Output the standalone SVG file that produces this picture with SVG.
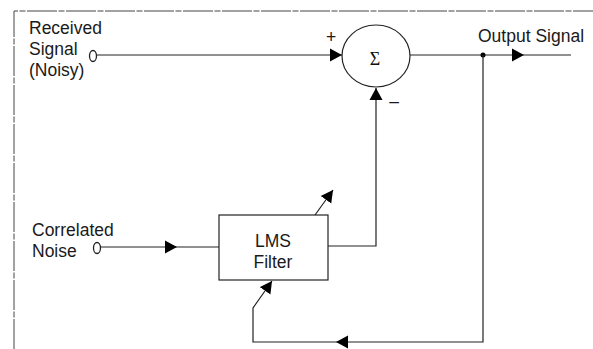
<svg xmlns="http://www.w3.org/2000/svg" width="593" height="349" viewBox="0 0 593 349">
<style>
.lbl{font-family:"Liberation Sans",Arial,sans-serif;font-size:17.5px;fill:#1a1a1a}
.ln{stroke:#222;stroke-width:1.2;fill:none}
.frame{stroke:#444;stroke-width:1;fill:none;stroke-dasharray:30 1.5 6 1.5}
.term{fill:none;stroke:#222;stroke-width:1.3}
</style>
<defs>
<marker id="ah" markerUnits="userSpaceOnUse" markerWidth="14" markerHeight="14" viewBox="0 0 14 14" refX="12" refY="7" orient="auto">
<path d="M0,0.5 L12,7 L0,13.5 Z" fill="#000"/>
</marker>
</defs>
<rect width="593" height="349" fill="#fff"/>
<path class="frame" d="M14,349 L14,11 L593,11"/>

<g id="received">
<text class="lbl" x="29" y="34">Received</text>
<text class="lbl" x="29" y="55">Signal</text>
<text class="lbl" x="29" y="76">(Noisy)</text>
<ellipse class="term" cx="93" cy="56" rx="3.5" ry="5.5"/>
</g>

<g id="correlated">
<text class="lbl" x="32" y="236">Correlated</text>
<text class="lbl" x="32" y="257">Noise</text>
<ellipse class="term" cx="97" cy="248" rx="3.5" ry="5.5"/>
</g>

<g id="sum">
<ellipse cx="376" cy="56" rx="34" ry="31" fill="#fff" stroke="#222" stroke-width="1.2"/>
<text x="375" y="65" text-anchor="middle" font-family="Liberation Serif,'Times New Roman',serif" font-size="18" fill="#111">Σ</text>
<text class="lbl" x="331" y="43" text-anchor="middle" font-size="15">+</text>
<text class="lbl" x="394" y="107" text-anchor="middle" font-size="15">–</text>
</g>

<g id="lms">
<rect x="219" y="215" width="109" height="65" fill="#fff" stroke="#222" stroke-width="1.2"/>
<text class="lbl" x="273" y="247" text-anchor="middle">LMS</text>
<text class="lbl" x="273" y="268" text-anchor="middle">Filter</text>
</g>

<g id="output">
<text class="lbl" x="478" y="42">Output Signal</text>
</g>

<g id="connectors">
<line class="ln" x1="97" y1="55" x2="342" y2="55" marker-end="url(#ah)"/>
<line class="ln" x1="410" y1="55" x2="524" y2="55" marker-end="url(#ah)"/>
<line class="ln" x1="524" y1="55" x2="571" y2="55"/>
<circle cx="483" cy="55" r="2.5" fill="#000"/>
<line class="ln" x1="101" y1="247" x2="177" y2="247" marker-end="url(#ah)"/>
<line class="ln" x1="177" y1="247" x2="219" y2="247"/>
<polyline class="ln" points="328,246 376,246 376,88" marker-end="url(#ah)"/>
<line class="ln" x1="315" y1="215" x2="333" y2="190" marker-end="url(#ah)"/>
<polyline class="ln" points="483,55 483,342 336,342" marker-end="url(#ah)"/>
<polyline class="ln" points="336,342 253,342 253,308 272,281" marker-end="url(#ah)"/>
</g>
</svg>
